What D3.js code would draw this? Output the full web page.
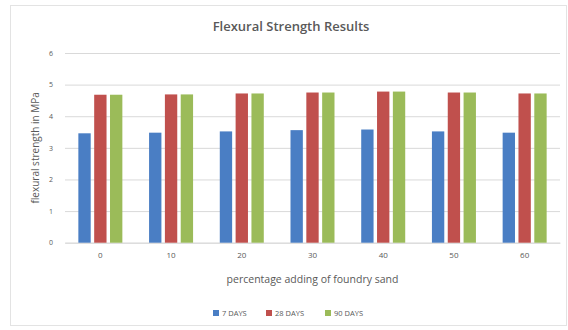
<!DOCTYPE html>
<html>
<head>
<meta charset="utf-8">
<script src="https://cdn.jsdelivr.net/npm/d3@7"></script>
<style>
  html, body { margin: 0; padding: 0; background: #fff; }
  svg text { font-family: "Open Sans", Lato, "Liberation Sans", sans-serif; }
</style>
</head>
<body>
<svg id="chart" width="568" height="330"></svg>
<script>
// Flexural strength (MPa) by percentage of foundry sand added
const categories = ["0", "10", "20", "30", "40", "50", "60"];
const seriesNames = ["7 DAYS", "28 DAYS", "90 DAYS"];
const days7  = [3.46, 3.48, 3.52, 3.56, 3.58, 3.52, 3.48];
const days28 = [4.68, 4.69, 4.72, 4.75, 4.78, 4.75, 4.72];
const days90 = [4.68, 4.69, 4.72, 4.75, 4.78, 4.75, 4.72];
const yTicks = [0, 1, 2, 3, 4, 5, 6];
const colors = ["#4a7ec4", "#c0504d", "#9bbb59"];

const seriesValues = [days7, days28, days90];
const rows = categories.map((c, i) => ({
  cat: c,
  vals: seriesNames.map((s, k) => ({ key: s, value: seriesValues[k][i], k }))
}));

const svg = d3.select("#chart");

// chart frame
svg.append("rect")
  .attr("x", 10.5).attr("y", 5.5)
  .attr("width", 556).attr("height", 320)
  .attr("fill", "#fff").attr("stroke", "#e3e3e3");

const plot = { left: 65, right: 560, top: 53, bottom: 242.7 };

const x0 = d3.scaleBand().domain(categories).range([plot.left, plot.right]).padding(0);
const x1 = d3.scaleBand().domain(seriesNames).range([-22, 22]).paddingInner(0.22);
const y = d3.scaleLinear().domain([0, 6]).range([plot.bottom, plot.top]);

// gridlines + y tick labels
const yAxis = d3.axisLeft(y).tickValues(yTicks).tickFormat(d3.format("d"))
  .tickSize(-(plot.right - plot.left)).tickPadding(12);
const gy = svg.append("g").attr("transform", `translate(${plot.left},0)`).call(yAxis);
gy.select(".domain").remove();
gy.selectAll(".tick line").attr("stroke", "#d9d9d9").attr("stroke-width", 1);
gy.selectAll(".tick text").attr("fill", "#595959").attr("font-size", 7);

// x axis labels
const xAxis = d3.axisBottom(x0).tickSize(0).tickPadding(10);
const gx = svg.append("g").attr("transform", `translate(0,${plot.bottom})`).call(xAxis);
gx.select(".domain").attr("stroke", "#d9d9d9");
gx.selectAll(".tick text").attr("fill", "#595959").attr("font-size", 8);

// bars
svg.append("g").selectAll("g").data(rows).join("g")
  .attr("transform", d => `translate(${x0(d.cat) + x0.bandwidth() / 2},0)`)
  .selectAll("rect").data(d => d.vals).join("rect")
  .attr("x", d => x1(d.key))
  .attr("width", x1.bandwidth())
  .attr("y", d => y(d.value))
  .attr("height", d => y(0) - y(d.value))
  .attr("fill", d => colors[d.k]);

// title
svg.append("text")
  .attr("x", 291).attr("y", 31)
  .attr("text-anchor", "middle")
  .attr("font-size", 13).attr("font-weight", 600)
  .attr("fill", "#595959")
  .text("Flexural Strength Results");

// axis titles
svg.append("text")
  .attr("x", (plot.left + plot.right) / 2).attr("y", 283)
  .attr("text-anchor", "middle")
  .attr("font-size", 10.5).attr("fill", "#595959")
  .text("percentage adding of foundry sand");

svg.append("text")
  .attr("transform", `translate(39,${(plot.top + plot.bottom) / 2}) rotate(-90)`)
  .attr("text-anchor", "middle")
  .attr("font-size", 10).attr("fill", "#595959")
  .text("flexural strength in MPa");

// legend
const legendX = [213, 266, 325];
const lg = svg.append("g").selectAll("g").data(seriesNames).join("g")
  .attr("transform", (d, i) => `translate(${legendX[i]},313)`);
lg.append("rect").attr("x", 0).attr("y", -3).attr("width", 6).attr("height", 6)
  .attr("fill", (d, i) => colors[i]);
lg.append("text").attr("x", 9).attr("y", 3)
  .attr("font-size", 7.5).attr("fill", "#595959")
  .text(d => d);
</script>
</body>
</html>
